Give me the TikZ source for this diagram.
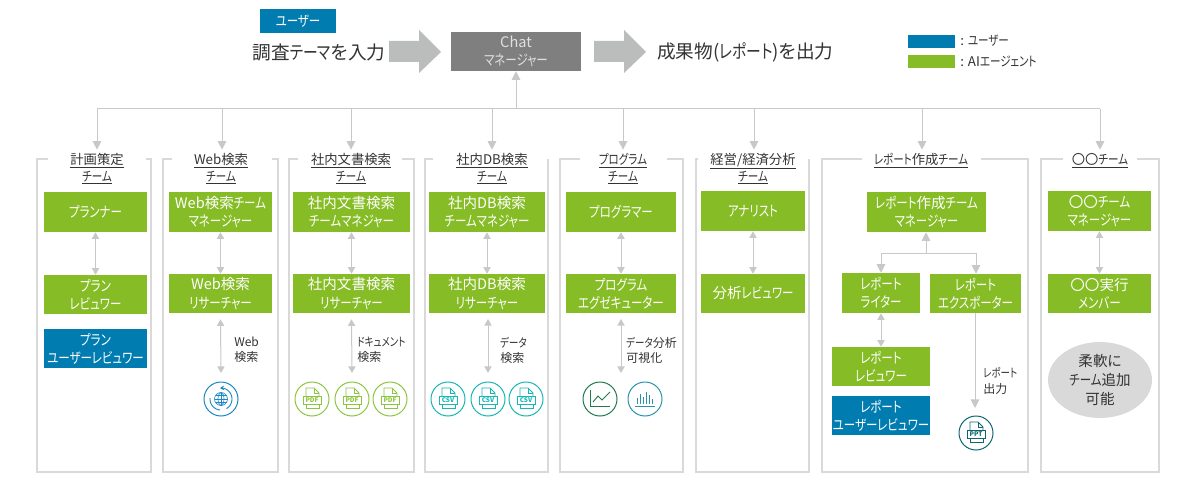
\documentclass[tikz,border=0pt]{standalone}
\usepackage{fontspec}
\setmainfont[RawFeature={+palt}]{Noto Sans CJK JP}
\newfontfamily\kanafont[RawFeature={+palt},FakeStretch=0.79]{Noto Sans CJK JP}
\newcommand{\basefam}{\rmfamily}
\XeTeXinterchartokenstate=1
\newXeTeXintercharclass\kanaclass
\count255="30A0
\loop\ifnum\count255<"3100
  \XeTeXcharclass\count255=\kanaclass
  \advance\count255 by 1
\repeat
\XeTeXinterchartoks 0 \kanaclass={\kanafont}
\XeTeXinterchartoks 4095 \kanaclass={\kanafont}
\XeTeXinterchartoks \kanaclass 0={\basefam}
\XeTeXinterchartoks \kanaclass 4095={\basefam}
\usetikzlibrary{arrows.meta,shapes.geometric}
\definecolor{grn}{HTML}{86BC25}
\definecolor{blu}{HTML}{007CB0}
\definecolor{mgr}{HTML}{7F7F7F}
\definecolor{big}{HTML}{BBBDBC}
\definecolor{con}{HTML}{C8C8C8}
\definecolor{frm}{HTML}{D9D9D9}
\definecolor{txt}{HTML}{333333}
\definecolor{icoA}{HTML}{1B87C4}
\definecolor{icoP}{HTML}{8CC63F}
\definecolor{icoC}{HTML}{18B6B6}
\definecolor{icoG}{HTML}{1F7A4D}
\definecolor{icoT}{HTML}{2A93A8}
\definecolor{icoD}{HTML}{0F6670}
\tikzset{
  x=0.75pt,y=-0.75pt,
  bx/.style={inner sep=0pt,align=center,text=white,font=\fontsize{10.9}{13.6}\selectfont},
  gbox/.style={bx,fill=grn},
  bbox/.style={bx,fill=blu},
  mbox/.style={bx,fill=mgr,text=white!88!black},
  ttl/.style={inner sep=0pt,align=center,text=txt,font=\fontsize{10}{12.4}\selectfont},
  lbl/.style={inner sep=0pt,align=left,text=txt,font=\fontsize{9}{11.4}\selectfont},
  lgd/.style={inner sep=0pt,align=left,text=txt,font=\fontsize{10}{11.4}\selectfont},
  hd/.style={inner sep=0pt,text=txt,font=\fontsize{14}{16}\selectfont},
  conn/.style={draw=con,line width=0.75pt},
  one/.style={conn,-{Triangle[length=6.5pt,width=6.5pt,fill=con]}},
  both/.style={conn,{Triangle[length=5pt,width=5.5pt,fill=con]}-{Triangle[length=5pt,width=5.5pt,fill=con]}},
  frame/.style={draw=frm,line width=2.2pt},
  bigarrow/.style={fill=big,draw=none},
}
\newcommand{\bxn}[7]{\node[#1,minimum width={(#5-#3)*0.75pt},minimum height={(#6-#4)*0.75pt}] (#2) at ({(#3+#5)/2},{(#4+#6)/2}) {#7};}
\newcommand{\panel}[5]{\draw[frame] (#4,159) -- (#1,159) -- (#1,472) -- (#2,472) -- (#2,159) -- (#5,159);}
\newcommand{\ul}[1]{\underline{#1}}
\newcommand{\docicon}[5]{% name,x,y,colour,text
  \node[circle,draw=#4,line width=0.75pt,minimum size=25.5pt,inner sep=0pt] (#1) at (#2,#3) {};
  \begin{scope}[shift={(#2,#3)},draw=#4,line width=0.6pt]
    \draw (-6,-3) -- (-6,-11) -- (2,-11) -- (7,-6) -- (7,-3);
    \draw (2,-11) -- (2,-6) -- (7,-6);
    \draw (-6,5) -- (-6,9) -- (7,9) -- (7,5);
    \draw (-9,-3) rectangle (9,5);
    \node[text=#4,inner sep=0pt,font=\fontsize{4.8}{5}\selectfont\bfseries] at (0,1) {#5};
  \end{scope}}
\begin{document}
\begin{tikzpicture}
\useasboundingbox (0,0) rectangle (1178,492);
% top row
\bxn{bbox}{user}{260}{9}{336}{33}{ユーザー}
\node[hd,anchor=center] (inp) at (319,52) {調査テーマを入力};
\fill[bigarrow] (389,41) -- (419,41) -- (419,30) -- (441,52) -- (419,73) -- (419,62) -- (389,62) -- cycle;
\bxn{mbox}{chat}{451}{32}{581}{71}{Chat\\マネージャー}
\fill[bigarrow] (594,41) -- (624,41) -- (624,30) -- (646,52) -- (624,73) -- (624,62) -- (594,62) -- cycle;
\node[hd,anchor=west] (out) at (657,52) {成果物(レポート)を出力};
% legend
\bxn{bbox}{legu}{908}{35}{955}{48}{}
\bxn{gbox}{lega}{908}{55}{955}{68}{}
\node[lgd,anchor=west] (legut) at (960,41) {: ユーザー};
\node[lgd,anchor=west] (legat) at (960,61) {: AIエージェント};
% bus
\coordinate (d1) at (97,109);
\coordinate (d2) at (222,109);
\coordinate (d3) at (351,109);
\coordinate (d4) at (492,109);
\coordinate (dm) at (516,109);
\coordinate (d5) at (623,109);
\coordinate (d6) at (754,109);
\coordinate (d7) at (922,109);
\coordinate (d8) at (1100,109);
\draw[conn] (d1) -- (d8);
\draw[one] (dm) -- (chat.south -| dm);
% panels
\panel{37}{151}{472}{48}{146}
\panel{163}{278}{472}{172}{272}
\panel{289}{414}{472}{298}{402}
\panel{425}{548}{472}{433}{548}
\panel{560}{683}{472}{580}{667}
\panel{696}{809}{472}{698}{809}
\panel{822}{1028}{472}{862}{981}
\panel{1041}{1159}{472}{1063}{1137}
% titles
\node[ttl,anchor=north] (t1) at (97,153) {\ul{計画策定}\\\ul{チーム}};
\node[ttl,anchor=north] (t2) at (221,153) {\ul{Web検索}\\\ul{チーム}};
\node[ttl,anchor=north] (t3) at (351,153) {\ul{社内文書検索}\\\ul{チーム}};
\node[ttl,anchor=north] (t4) at (492,153) {\ul{社内DB検索}\\\ul{チーム}};
\node[ttl,anchor=north] (t5) at (623,153) {\ul{プログラム}\\\ul{チーム}};
\node[ttl,anchor=north] (t6) at (753,153) {\ul{経営/経済分析}\\\ul{チーム}};
\node[ttl,anchor=north] (t7) at (921,153) {\ul{レポート作成チーム}};
\node[ttl,anchor=north] (t8) at (1100,153) {\ul{〇〇チーム}};
\foreach \i in {1,...,8}{\draw[one,shorten >=2.5pt] (d\i) -- (d\i |- t\i.north);}
% panel 1
\bxn{gbox}{a1}{44}{192}{147}{232}{プランナー}
\bxn{gbox}{a2}{44}{275}{147}{314}{プラン\\レビュワー}
\bxn{bbox}{a3}{44}{329}{147}{368}{プラン\\ユーザーレビュワー}
\draw[both] (a1) -- (a2);
% panel 2
\bxn{gbox}{b1}{169}{192}{272}{232}{Web検索チーム\\マネージャー}
\bxn{gbox}{b2}{169}{274}{272}{313}{Web検索\\リサーチャー}
\draw[both] (b1) -- (b2);
% panel 3
\bxn{gbox}{c1}{293}{192}{410}{232}{社内文書検索\\チームマネジャー}
\bxn{gbox}{c2}{293}{274}{410}{313}{社内文書検索\\リサーチャー}
\draw[both] (c1) -- (c2);
% panel 4
\bxn{gbox}{e1}{429}{192}{545}{232}{社内DB検索\\チームマネジャー}
\bxn{gbox}{e2}{429}{274}{545}{313}{社内DB検索\\リサーチャー}
\draw[both] (e1) -- (e2);
% panel 5
\bxn{gbox}{f1}{566}{192}{676}{232}{プログラマー}
\bxn{gbox}{f2}{566}{274}{676}{313}{プログラム\\エグゼキューター}
\draw[both] (f1) -- (f2);
% panel 6
\bxn{gbox}{g1}{701}{191}{805}{231}{アナリスト}
\bxn{gbox}{g2}{701}{274}{805}{313}{分析レビュワー}
\draw[both] (g1) -- (g2);
% panel 7
\bxn{gbox}{h1}{867}{192}{986}{232}{レポート作成チーム\\マネージャー}
\bxn{gbox}{h2}{842}{273}{920}{313}{レポート\\ライター}
\bxn{gbox}{h3}{930}{274}{1021}{313}{レポート\\エクスポーター}
\bxn{gbox}{h4}{832}{347}{930}{386}{レポート\\レビュワー}
\bxn{bbox}{h5}{832}{396}{930}{435}{レポート\\ユーザーレビュワー}
\coordinate (j0) at (926,253);
\coordinate (j1) at (881,253);
\coordinate (j2) at (976,253);
\draw[conn] (j1) -- (j2);
\draw[one] (j0) -- (j0 |- h1.south);
\draw[one] (j1) -- (j1 |- h2.north);
\draw[one] (j2) -- (j2 |- h3.north);
\draw[both] (h2.south -| j1) -- (h4.north -| j1);
% panel 8
\bxn{gbox}{k1}{1048}{191}{1151}{231}{〇〇チーム\\マネージャー}
\bxn{gbox}{k2}{1048}{274}{1151}{313}{〇〇実行\\メンバー}
\draw[both] (k1) -- (k2);
\node[ellipse,fill=frm,text=txt,inner sep=0pt,minimum width=78pt,minimum height=57pt,align=center,font=\fontsize{10.9}{14.4}\selectfont] (k3) at (1100,380) {柔軟に\\チーム追加\\可能};
% tool icons
\node[circle,draw=icoA,line width=0.75pt,minimum size=25.5pt,inner sep=0pt] (w) at (221,399) {};
\begin{scope}[shift={(221,399)},draw=icoA,line width=0.5pt]
  \draw[line width=0.7pt,-{Stealth[length=3pt,width=3.5pt]}] plot[domain=60:-95,samples=25] ({11*cos(\x)},{11*sin(\x)});
  \draw[line width=0.7pt] plot[domain=95:185,samples=15] ({11*cos(\x)},{11*sin(\x)});
  \draw (0,0) circle[radius=6.5];
  \draw (0,0) ellipse[x radius=3,y radius=6.5];
  \draw (-6.5,0) -- (6.5,0) (-5.5,-3.2) -- (5.5,-3.2) (-5.5,3.2) -- (5.5,3.2) (0,-6.5) -- (0,6.5);
\end{scope}
\docicon{p1}{312}{399}{icoP}{PDF}
\docicon{p2}{352}{399}{icoP}{PDF}
\docicon{p3}{390}{399}{icoP}{PDF}
\docicon{s1}{448}{399}{icoC}{CSV}
\docicon{s2}{488}{399}{icoC}{CSV}
\docicon{s3}{526}{399}{icoC}{CSV}
\docicon{ppt}{976}{433}{icoD}{PPT}
\node[circle,draw=icoG,line width=0.75pt,minimum size=25.5pt,inner sep=0pt] (l) at (600,399) {};
\begin{scope}[shift={(600,399)},draw=icoG,line width=0.7pt]
  \draw (-10,-9) -- (-10,7) -- (10,7);
  \draw (-7,3) -- (-2,-3) -- (2,1) -- (10,-7);
\end{scope}
\node[circle,draw=icoT,line width=0.75pt,minimum size=25.5pt,inner sep=0pt] (m) at (645,399) {};
\begin{scope}[shift={(645,399)},draw=icoT,line width=0.7pt]
  \draw (-10,7) -- (10,7);
  \foreach \xx/\hh in {-8/6,-5/10,-2/7,1/12,4/9,7/5}{\draw (\xx,5) -- (\xx,5-\hh);}
\end{scope}
% search arrows
\coordinate (q5) at (621,373);
\draw[both] (b2.south) ++(0,6) -- (w.north |- q5);
\draw[both] (c2.south) ++(0,6) -- (p2.north |- q5);
\coordinate (q4) at (488,319);
\draw[both] (q4) -- (s2.north |- q5);
\coordinate (q6) at (621,319);
\draw[both] (q6) -- (q5);
\coordinate (x1) at (975,313);
\coordinate (x2) at (975,408);
\draw[one] (x1) -- (x2);
\node[lbl,anchor=west] (l1) at (234,350) {Web\\検索};
\node[lbl,anchor=west] (l2) at (357,350) {ドキュメント\\検索};
\node[lbl,anchor=west] (l3) at (500,350) {データ\\検索};
\node[lbl,anchor=west] (l4) at (626,350) {データ分析\\可視化};
\node[lbl,anchor=west] (l5) at (983,381) {レポート\\出力};
\end{tikzpicture}
\end{document}
